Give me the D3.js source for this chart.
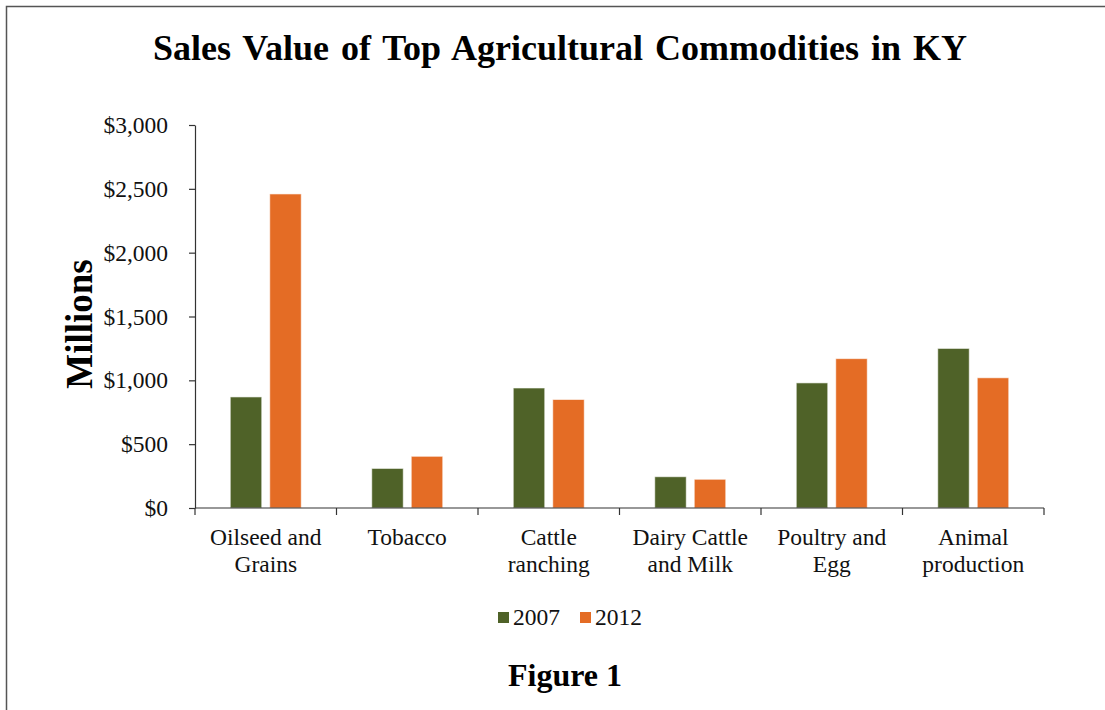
<!DOCTYPE html>
<html>
<head>
<meta charset="utf-8">
<script src="https://cdn.jsdelivr.net/npm/d3@7"></script>
<style>
	body { margin: 0; background: #fff; }
	svg { display: block; font-family: "Liberation Serif", "Times New Roman", serif; }
</style>
</head>
<body>
<main></main>
<script>
// DATA
const categories = ["Oilseed and Grains", "Tobacco", "Cattle ranching", "Dairy Cattle and Milk", "Poultry and Egg", "Animal production"];
const categoryLines = [["Oilseed and", "Grains"], ["Tobacco"], ["Cattle", "ranching"], ["Dairy Cattle", "and Milk"], ["Poultry and", "Egg"], ["Animal", "production"]];
const series = ["2007", "2012"];
const values2007 = [870, 310, 940, 245, 980, 1250];
const values2012 = [2460, 405, 850, 225, 1170, 1020];
const yTicks = [0, 500, 1000, 1500, 2000, 2500, 3000];
const colors = ["#4f6228", "#e46c25"];

// chart dimension
const w = 1105;
const h = 710;
const plotLeft = 195, plotRight = 1044, plotTop = 125, plotBottom = 508;

const svg = d3.select("main").append("svg")
	.attr("width", w)
	.attr("height", h);

// frame (top and left edges visible)
svg.append("path")
	.attr("d", `M6.5,${h} V6.5 H${w}`)
	.attr("fill", "none")
	.attr("stroke", "#555")
	.attr("stroke-width", 1.5);

// scales
const x = d3.scaleBand().domain(categories).range([plotLeft, plotRight]).paddingInner(0).paddingOuter(0);
const bw = x.bandwidth();
const x1 = d3.scaleBand().domain(series).range([bw / 2 - 35.5, bw / 2 + 35.5]).paddingInner(0.2025);
const y = d3.scaleLinear().domain([0, 3000]).range([plotBottom, plotTop]);

// bars
const rows = categories.map((c, i) => ({ cat: c, vals: [values2007[i], values2012[i]] }));
const groups = svg.selectAll("g.cat")
	.data(rows)
	.enter()
	.append("g")
		.attr("class", "cat")
		.attr("transform", d => `translate(${x(d.cat)},0)`);
groups.selectAll("rect")
	.data(d => d.vals.map((v, j) => ({ s: series[j], v, j })))
	.enter()
	.append("rect")
		.attr("x", d => x1(d.s))
		.attr("y", d => y(d.v))
		.attr("width", x1.bandwidth())
		.attr("height", d => y(0) - y(d.v))
		.attr("fill", d => colors[d.j])
		.attr("stroke", "#fff")
		.attr("stroke-opacity", 0.6)
		.attr("stroke-width", 1);

// y axis
const yAxis = d3.axisLeft(y)
	.tickValues(yTicks)
	.tickSize(6)
	.tickSizeOuter(0)
	.tickPadding(21)
	.tickFormat(d => "$" + d3.format(",")(d));
const gy = svg.append("g")
	.attr("transform", `translate(${plotLeft},0)`)
	.call(yAxis);
gy.selectAll("text").attr("font-size", 23.5).attr("fill", "#111").attr("font-family", "Liberation Serif");
gy.selectAll("line, path").attr("stroke", "#333").attr("stroke-width", 1.2);

// x axis
svg.append("line")
	.attr("x1", plotLeft).attr("x2", plotRight)
	.attr("y1", y(0)).attr("y2", y(0))
	.attr("stroke", "#333").attr("stroke-width", 1.2);
const bounds = categories.map(c => x(c)).concat([x.range()[1]]);
svg.selectAll("line.xtick")
	.data(bounds)
	.enter()
	.append("line")
		.attr("class", "xtick")
		.attr("x1", d => d).attr("x2", d => d)
		.attr("y1", y(0)).attr("y2", y(0) + 7)
		.attr("stroke", "#333").attr("stroke-width", 1.2);
const labels = svg.selectAll("text.xlab")
	.data(categoryLines)
	.enter()
	.append("text")
		.attr("class", "xlab")
		.attr("text-anchor", "middle")
		.attr("font-size", 23.5)
		.attr("fill", "#111")
		.attr("x", (d, i) => x(categories[i]) + bw / 2)
		.attr("y", 545);
labels.selectAll("tspan")
	.data(d => d)
	.enter()
	.append("tspan")
		.attr("x", function () { return this.parentNode.getAttribute("x"); })
		.attr("dy", (d, i) => i === 0 ? 0 : 27)
		.text(d => d);

// axis title
svg.append("text")
	.attr("transform", "translate(92,324) rotate(-90)")
	.attr("text-anchor", "middle")
	.attr("font-size", 37)
	.attr("font-weight", "bold")
	.attr("fill", "#000")
	.text("Millions");

// chart title
svg.append("text")
	.attr("x", 560).attr("y", 60)
	.attr("text-anchor", "middle")
	.attr("font-size", 36)
	.attr("font-weight", "bold")
	.attr("word-spacing", 3)
	.attr("fill", "#000")
	.text("Sales Value of Top Agricultural Commodities in KY");

// legend
const legendX = [498, 580];
const lg = svg.selectAll("g.legend")
	.data(series)
	.enter()
	.append("g")
		.attr("class", "legend")
		.attr("transform", (d, i) => `translate(${legendX[i]},0)`);
lg.append("rect")
	.attr("x", 0).attr("y", 612)
	.attr("width", 11).attr("height", 11)
	.attr("fill", (d, i) => colors[i]);
lg.append("text")
	.attr("x", 15).attr("y", 625)
	.attr("font-size", 23.5)
	.attr("fill", "#111")
	.text(d => d);

// figure caption
svg.append("text")
	.attr("x", 565).attr("y", 686)
	.attr("text-anchor", "middle")
	.attr("font-size", 32)
	.attr("font-weight", "bold")
	.attr("fill", "#000")
	.text("Figure 1");
</script>
</body>
</html>
